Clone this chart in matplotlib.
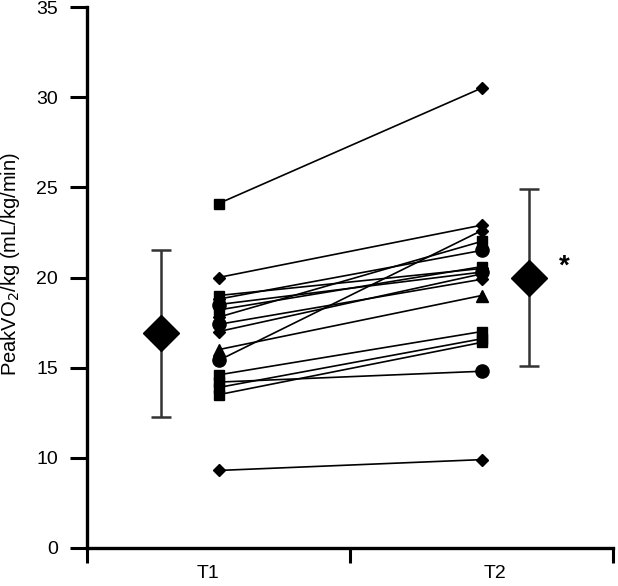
import matplotlib
matplotlib.use("Agg")
import matplotlib.pyplot as plt
import numpy as np

plt.rcParams['font.family'] = ['Liberation Sans', 'DejaVu Sans']

# ---- data ----
groups = ["T1", "T2"]
t1_values = [24.1, 20.0, 19.0, 18.8, 18.5, 18.2, 17.8, 17.4, 17.0, 16.0, 15.4, 14.6, 14.2, 13.9, 13.5, 9.3]
t2_values = [30.5, 22.9, 20.5, 21.5, 20.3, 20.6, 22.0, 19.9, 20.2, 19.0, 22.6, 17.0, 14.8, 16.6, 16.4, 9.9]
t1_markers = ['s', 'D', 's', 'D', 'o', 's', 'D', 'o', 'D', '^', 'o', 's', 's', 's', 's', 'D']
t2_markers = ['D', 'D', 'D', 'o', 'o', 's', 's', 'D', 'D', '^', 'D', 's', 'o', 's', 's', 'D']
group_means = [16.9, 20.0]
group_sds = [4.65, 4.9]
yticks = [5, 10, 15, 20, 25, 30, 35]
ytick_labels = ["0", "10", "15", "20", "25", "30", "35"]

# positions
x_t1, x_t2 = 0.5, 1.5
x_means = [0.28, 1.68]

W, H = 618, 586
fig = plt.figure(figsize=(W / 100, H / 100), dpi=100)
ax = fig.add_axes([87 / W, (H - 548) / H, (613 - 87) / W, (548 - 7) / H])

msize = {'D': 6.5, 's': 7.5, 'o': 9.5, '^': 9}
for a, b, m1, m2 in zip(t1_values, t2_values, t1_markers, t2_markers):
    ax.plot([x_t1, x_t2], [a, b], color='black', lw=1.2, zorder=2)
    ax.plot([x_t1], [a], marker=m1, ms=msize[m1], color='black', ls='none', zorder=3)
    ax.plot([x_t2], [b], marker=m2, ms=msize[m2], color='black', ls='none', zorder=3)

ax.errorbar(x_means, group_means, yerr=group_sds, fmt='D', ms=18, color='black',
            ecolor='#333333', elinewidth=1.8, capsize=7, capthick=1.8, zorder=4)
ax.text(1.815, group_means[1] + 0.6, "*", fontsize=20, fontweight='bold',
        ha='center', va='center')

ax.set_xlim(0, 2)
ax.set_ylim(5, 35)
ax.set_yticks(yticks)
ax.set_yticklabels(ytick_labels, fontsize=14)
ax.set_xticks([0, 1, 2])
ax.set_xticklabels([])
ax.set_xticks([0.46, 1.55], minor=True)
ax.set_xticklabels(groups, minor=True, fontsize=14)
ax.tick_params(axis='x', which='minor', length=0, pad=12)
ax.tick_params(axis='x', which='major', direction='out', length=11, width=2.2)
ax.tick_params(axis='y', which='major', direction='out', length=12, width=2.2, pad=9)

for s in ['top', 'right']:
    ax.spines[s].set_visible(False)
for s in ['left', 'bottom']:
    ax.spines[s].set_linewidth(2.4)

ax.set_ylabel("PeakVO$_2$/kg (mL/kg/min)", fontsize=14.5)
ax.yaxis.set_label_coords(-0.124, 0.525)

fig.savefig("out.png", dpi=100)
